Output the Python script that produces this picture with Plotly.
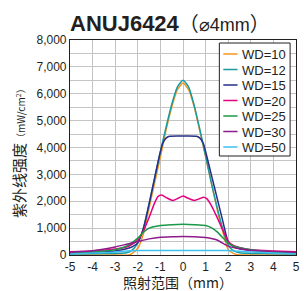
import plotly.graph_objects as go

# ---------------- data ----------------
series_names = ["WD=10", "WD=12", "WD=15", "WD=20", "WD=25", "WD=30", "WD=50"]
series_colors = ["#f7941d", "#1a9ba0", "#262f87", "#e5007e", "#1b9848", "#8f1a8c", "#3ec1ee"]

x_wd10 = [-5, -3, -2.4, -2.25, -2, -1.75, -1.5, -1.25, -1, -0.75, -0.5, -0.25, 0, 0.25, 0.5, 0.75, 1, 1.25, 1.5, 1.75, 2, 2.25, 2.5, 3, 5]
y_wd10 = [0, 0, 0, 60, 250, 800, 1750, 2700, 3650, 4650, 5500, 6150, 6400, 6150, 5500, 4600, 3650, 2700, 1750, 900, 200, 50, 0, 0, 0]

x_wd12 = [-5, -4, -3, -2.5, -2.25, -2, -1.75, -1.5, -1.25, -1, -0.75, -0.5, -0.25, 0, 0.25, 0.5, 0.75, 1, 1.25, 1.5, 1.75, 2, 2.25, 2.5, 3, 4, 5]
y_wd12 = [40, 50, 60, 80, 180, 450, 1000, 1900, 2850, 3850, 4750, 5600, 6250, 6500, 6250, 5550, 4650, 3700, 2700, 1800, 1000, 370, 150, 80, 60, 50, 40]

x_wd15 = [-5, -4, -3, -2.5, -2.25, -2, -1.75, -1.5, -1.25, -1, -0.9, -0.75, -0.6, 0, 0.6, 0.75, 0.9, 1, 1.25, 1.5, 1.75, 2, 2.25, 2.5, 3, 4, 5]
y_wd15 = [60, 90, 150, 230, 300, 450, 1000, 1900, 2900, 3850, 4150, 4350, 4420, 4430, 4420, 4350, 4150, 3850, 3000, 2150, 1300, 500, 300, 230, 170, 120, 90]

x_wd20 = [-5, -4, -3, -2.5, -2.25, -2, -1.75, -1.5, -1.25, -1.1, -0.95, -0.7, -0.45, -0.2, 0, 0.2, 0.5, 0.75, 0.9, 1.05, 1.25, 1.5, 1.75, 2, 2.25, 2.5, 3, 4, 5]
y_wd20 = [120, 150, 220, 300, 400, 560, 900, 1400, 1950, 2180, 2230, 2120, 2030, 2120, 2200, 2120, 2030, 2100, 2150, 2100, 1850, 1420, 950, 500, 350, 280, 200, 150, 120]

x_wd25 = [-5, -4, -3, -2.5, -2, -1.75, -1.5, -1, -0.5, 0, 0.5, 1, 1.25, 1.5, 1.75, 2, 2.25, 2.5, 3, 4, 5]
y_wd25 = [80, 120, 200, 330, 630, 850, 1000, 1100, 1130, 1140, 1130, 1100, 1020, 870, 650, 440, 330, 270, 200, 110, 70]

x_wd30 = [-5, -4, -3, -2.5, -2, -1.5, -1, -0.5, 0, 0.5, 1, 1.5, 2, 2.5, 3, 4, 5]
y_wd30 = [100, 160, 300, 400, 500, 600, 660, 680, 690, 680, 650, 560, 330, 230, 180, 130, 100]

x_wd50 = [-5, -4, -3, -2.5, -2, 0, 2, 2.5, 3, 4, 5]
y_wd50 = [40, 70, 110, 150, 165, 170, 165, 140, 110, 70, 40]

x_ticks = [-5, -4, -3, -2, -1, 0, 1, 2, 3, 4, 5]
y_ticks = [0, 1000, 2000, 3000, 4000, 5000, 6000, 7000, 8000]
y_tick_text = ["0", "1,000", "2,000", "3,000", "4,000", "5,000", "6,000", "7,000", "8,000"]

title_main = "ANUJ6424"
title_sub_open, title_sub_mid, title_sub_close = "（", "⌀4mm", "）"
x_title = "照射范围（mm）"
y_title_main = "紫外线强度"
y_title_unit = "（mW/cm<sup>2</sup>）"

all_x = [x_wd10, x_wd12, x_wd15, x_wd20, x_wd25, x_wd30, x_wd50]
all_y = [y_wd10, y_wd12, y_wd15, y_wd20, y_wd25, y_wd30, y_wd50]

# ---------------- layout geometry ----------------
W, H = 304, 291
L, R, T, B = 70, 4, 40, 36
PW, PH = W - L - R, H - T - B
FONT = "Liberation Sans, Arial, sans-serif"
CJK = "Noto Sans CJK SC, sans-serif"
TXT = "#231f20"


def px(xp):
    return (xp - L) / PW


def py(yp):
    return (H - B - yp) / PH


fig = go.Figure()
for i in range(len(series_names)):
    fig.add_trace(go.Scatter(
        x=all_x[i], y=all_y[i], mode="lines", name=series_names[i],
        line=dict(color=series_colors[i], width=1.5, shape="spline", smoothing=0.6),
        showlegend=False, hoverinfo="skip"))

shapes = []
annotations = []

# custom legend box
shapes.append(dict(type="rect", xref="paper", yref="paper",
                   x0=px(222), x1=px(294), y0=py(156), y1=py(43),
                   line=dict(color="#231f20", width=1), fillcolor="white", layer="above"))
row0, row_step = 54, 15.5
for i, name in enumerate(series_names):
    yy = row0 + i * row_step
    shapes.append(dict(type="line", xref="paper", yref="paper",
                       x0=px(226), x1=px(240.5), y0=py(yy), y1=py(yy),
                       line=dict(color=series_colors[i], width=1.5), layer="above"))
    annotations.append(dict(xref="paper", yref="paper", x=px(243), y=py(yy + 0.5),
                            xanchor="left", yanchor="middle", showarrow=False,
                            text=name, font=dict(family=FONT, size=13, color=TXT)))

# title
sub = (f"<span style='font-family:Noto Sans CJK SC;font-size:20px'>{title_sub_open}</span>"
       f"<span style='font-size:18px'>{title_sub_mid}</span>"
       f"<span style='font-family:Noto Sans CJK SC;font-size:20px'>{title_sub_close}</span>")
annotations.append(dict(xref="paper", yref="paper", x=px(68), y=py(22),
                        xanchor="left", yanchor="middle", showarrow=False,
                        text=f"<b>{title_main}</b>{sub}",
                        font=dict(family=FONT, size=22, color=TXT)))
# x title
annotations.append(dict(xref="paper", yref="paper", x=px(180), y=py(282),
                        xanchor="center", yanchor="middle", showarrow=False,
                        text=x_title, font=dict(family=CJK, size=14, color=TXT)))
# y title
annotations.append(dict(xref="paper", yref="paper", x=px(17), y=py(150),
                        xanchor="center", yanchor="middle", showarrow=False, textangle=-90,
                        text=f"{y_title_main}<span style='font-size:10px'>{y_title_unit}</span>",
                        font=dict(family=CJK, size=15, color=TXT)))

fig.update_layout(
    width=W, height=H,
    margin=dict(l=L, r=R, t=T, b=B, pad=0),
    paper_bgcolor="white", plot_bgcolor="white",
    shapes=shapes, annotations=annotations,
    showlegend=False,
    font=dict(family=FONT, size=12, color=TXT),
)
fig.update_xaxes(range=[-5, 5], tickmode="array", tickvals=x_ticks,
                 ticktext=[str(v) for v in x_ticks],
                 showgrid=True, gridcolor="#c4c4c4", gridwidth=1,
                 showline=True, linecolor="#231f20", linewidth=1.2, mirror=True,
                 ticks="", zeroline=False, tickfont=dict(family=FONT, size=12, color=TXT))
fig.update_yaxes(range=[0, 8000], tickmode="array", tickvals=y_ticks, ticktext=y_tick_text,
                 showgrid=True, gridcolor="#c4c4c4", gridwidth=1,
                 minor=dict(dtick=500, showgrid=True, gridcolor="#c4c4c4", gridwidth=1),
                 showline=True, linecolor="#231f20", linewidth=1.2, mirror=True,
                 ticks="", zeroline=False, tickfont=dict(family=FONT, size=12, color=TXT))

fig.write_html("out.html", config={"displayModeBar": False},
               post_script="document.body.style.margin='0';document.body.style.overflow='hidden';")
